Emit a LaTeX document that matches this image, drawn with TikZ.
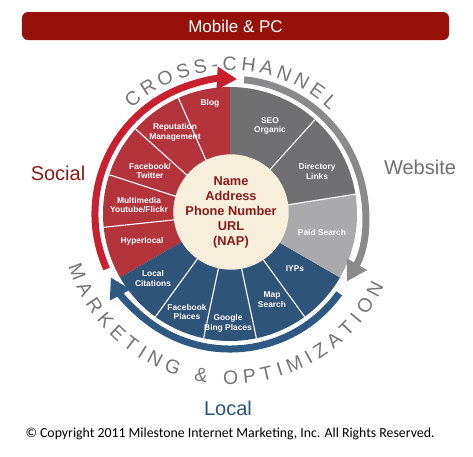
\documentclass[tikz,border=0pt]{standalone}
\usepackage{fontspec}
\setmainfont{Liberation Sans}
\newfontfamily\copyfont{Carlito}
\usetikzlibrary{arrows.meta,decorations.text,positioning}

\definecolor{socialred}{HTML}{B3343A}
\definecolor{arcred}{HTML}{C8202F}
\definecolor{sitegrey}{HTML}{707072}
\definecolor{paidgrey}{HTML}{AAAAAC}
\definecolor{arcgrey}{HTML}{8A8A8D}
\definecolor{localblue}{HTML}{2F5479}
\definecolor{arcblue}{HTML}{2D5983}
\definecolor{napcream}{HTML}{F7EFDC}
\definecolor{napred}{HTML}{8B1A1A}
\definecolor{barred}{HTML}{961208}
\definecolor{ringgrey}{HTML}{767678}

\begin{document}
\begin{tikzpicture}[x=1pt, y=1pt,
    seg/.style={font=\fontsize{8.4}{9.8}\selectfont\bfseries, text=white, align=center, inner sep=0pt},
    sidelabel/.style={font=\fontsize{20}{24}\selectfont},
    ring/.style={line width=7pt, -{Triangle[length=20pt,width=22pt]}},
    ringtext/.style={decorate, decoration={text along path, text align=fit to path,
        text color=ringgrey, text={|\fontsize{19.5}{19.5}\selectfont|#1}}}
]
\useasboundingbox (-230,-242) rectangle (243,214);

% Top bar
\node[fill=barred, rounded corners=6pt, minimum width=427pt, minimum height=28pt,
    text=white, font=\fontsize{17}{20}\selectfont] (mobile) at (5.5,188) {Mobile \& PC};

% Wedges
\foreach \a/\b/\c in {90/114/socialred, 114/138/socialred, 138/162/socialred,
    162/186/socialred, 186/210/socialred, 210/234/localblue, 234/258/localblue,
    258/282/localblue, 282/306/localblue, 306/330/localblue, 330/369/paidgrey,
    369/408/sitegrey, 408/450/sitegrey}
    \fill[\c] (0,0) -- (\a:127) arc[start angle=\a, end angle=\b, radius=127] -- cycle;
\foreach \a in {114,138,162,186,234,258,282,306,9,48}
    \draw[white, line width=1.1pt] (0,0) -- (\a:127);

% Centre
\node[circle, fill=napcream, minimum size=108pt, inner sep=0pt, align=center, text=napred,
    font=\fontsize{12.8}{15}\selectfont\bfseries] (nap) at (1,2)
    {Name\\Address\\Phone Number\\URL\\(NAP)};

% Social side
\node[seg] (blog) at (-20,111) {Blog};
\node[seg] (reputation) at (-55,81.5) {Reputation\\Management};
\node[seg] (facebook) at (-80,43) {Facebook/\\Twitter};
\node[seg] (multimedia) at (-91,9) {Multimedia\\Youtube/Flickr};
\node[seg] (hyperlocal) at (-88,-27) {Hyperlocal};

% Local side
\node[seg] (citations) at (-77,-64.5) {Local\\Citations};
\node[seg] (fbplaces) at (-43,-98) {Facebook\\Places};
\node[seg] (bing) at (-2,-109) {Google\\Bing Places};
\node[seg] (map) at (42,-85.5) {Map\\Search};
\node[seg] (iyp) at (65,-55) {IYPs};

% Website side
\node[seg] (paid) at (92,-18) {Paid Search};
\node[seg] (directory) at (87,42.5) {Directory\\Links};
\node[seg] (seo) at (40,88) {SEO\\Organic};

% Ring arrows
\draw[ring, arcred] (204:135) arc[start angle=204, end angle=87, radius=135];
\draw[ring, arcgrey] (84:135) arc[start angle=84, end angle=-30, radius=135];
\draw[ring, arcblue] (-36:135) arc[start angle=-36, end angle=-152, radius=135];

% Ring texts
\path[ringtext={CROSS-CHANNEL}] (133:144) arc[start angle=133, end angle=46, radius=144];
\path[ringtext={MARKETING {\&} OPTIMIZATION}] (198:170) arc[start angle=198, end angle=335, radius=170];

% Labels
\node[sidelabel, text=napred] (social) at (-172,41) {Social};
\node[sidelabel, text=sitegrey] (website) at (190,47) {Website};
\node[sidelabel, text=localblue] (local) at (-2,-194) {Local};
\node[font=\copyfont\fontsize{13.8}{16}\selectfont] (copy) at (0,-220)
    {© Copyright 2011 Milestone Internet Marketing, Inc. All Rights Reserved.};

\end{tikzpicture}
\end{document}
